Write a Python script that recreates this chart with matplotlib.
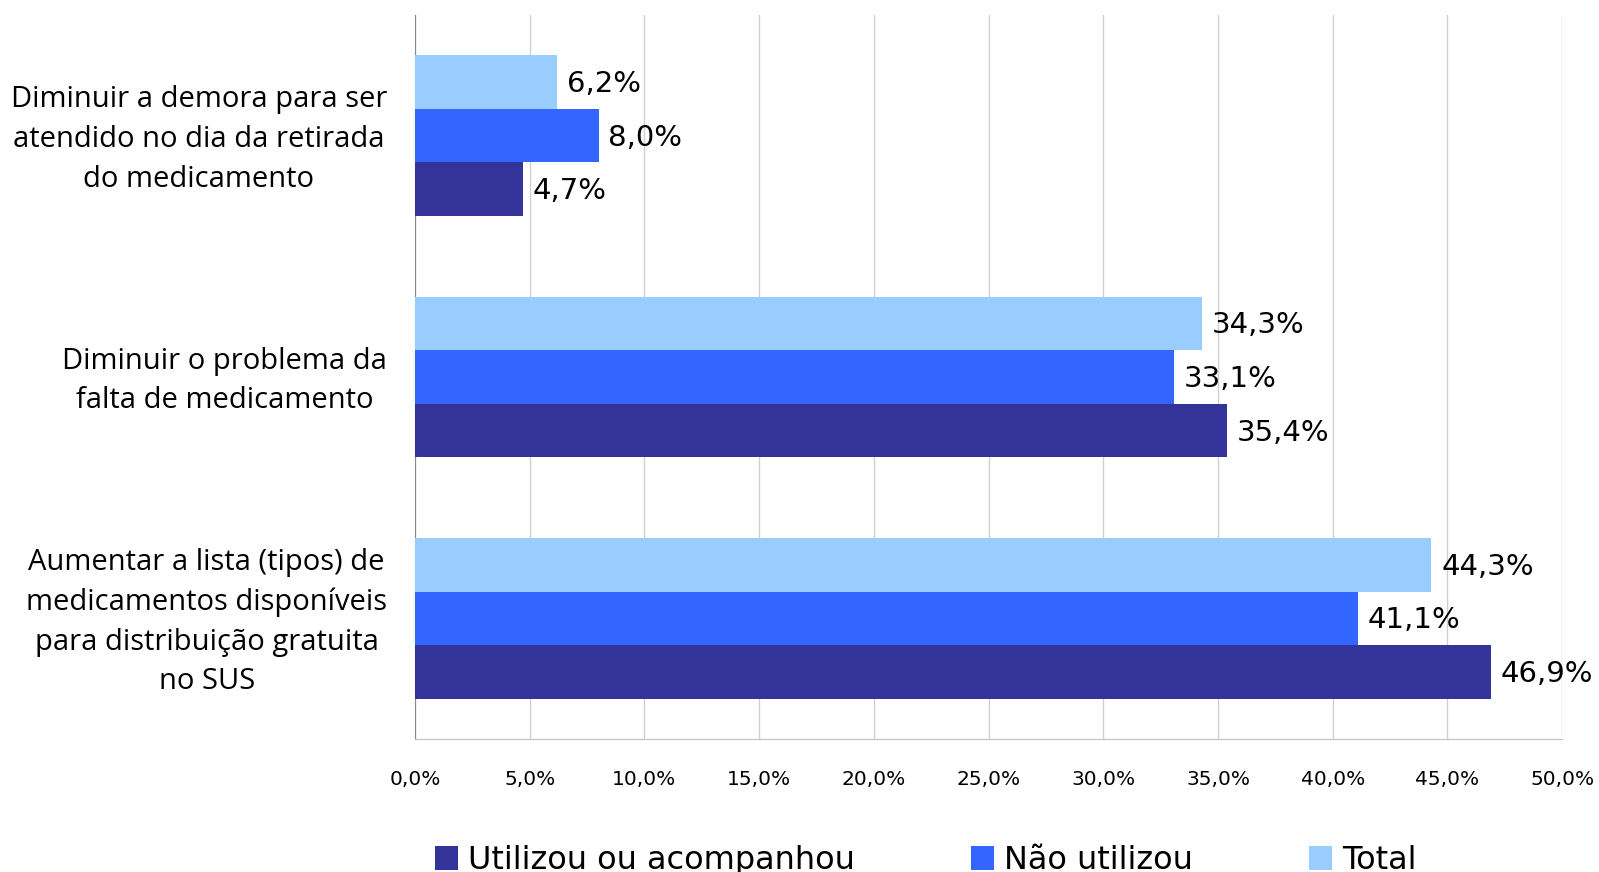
import matplotlib.pyplot as plt
import matplotlib.transforms as mtransforms
import numpy as np
from matplotlib.patches import Patch
from matplotlib.ticker import FuncFormatter, MultipleLocator

plt.rcParams["font.family"] = ["Open Sans", "DejaVu Sans"]

# categories listed top to bottom
categories = [
    "Diminuir a demora para ser\natendido no dia da retirada\ndo medicamento",
    "Diminuir o problema da\nfalta de medicamento",
    "Aumentar a lista (tipos) de\nmedicamentos disponíveis\npara distribuição gratuita\nno SUS",
]
series_names = ["Utilizou ou acompanhou", "Não utilizou", "Total"]
utilizou = [4.7, 35.4, 46.9]
nao_utilizou = [8.0, 33.1, 41.1]
total = [6.2, 34.3, 44.3]
colors = ["#333399", "#3366FF", "#99CCFF"]


def pct(v):
    return f"{v:.1f}%".replace(".", ",")


fig = plt.figure(figsize=(15.99, 8.72), dpi=100)
ax = fig.add_axes([0.2595, 0.1525, 0.7175, 0.8305])

y = np.arange(len(categories))
h = 0.222
# Total on top, then Não utilizou, then Utilizou (y axis is inverted)
offsets = [h, 0.0, -h]
for vals, off, col in zip([utilizou, nao_utilizou, total], offsets, colors):
    bars = ax.barh(y + off, vals, height=h, color=col, zorder=3)
    for b, v in zip(bars, vals):
        ax.annotate(pct(v), (b.get_width(), b.get_y() + b.get_height() / 2),
                    xytext=(7, -1.5), textcoords="offset points",
                    ha="left", va="center", fontsize=21, color="black",
                    family="DejaVu Sans", zorder=4, annotation_clip=False)

ax.set_xlim(0, 50)
ax.set_ylim(-0.5, 2.5)
ax.invert_yaxis()
ax.set_yticks(y)
ax.set_yticklabels(categories, fontsize=21, multialignment="center",
                   linespacing=1.48)
ax.xaxis.set_major_locator(MultipleLocator(5))
ax.xaxis.set_major_formatter(FuncFormatter(lambda v, _: pct(v)))
ax.tick_params(axis="x", length=0, pad=22, labelsize=14.5)
for t in ax.get_xticklabels():
    t.set_family("DejaVu Sans")
ax.tick_params(axis="y", length=0, pad=20)
# nudge the category blocks up a little so they sit on the group centre
nudge = mtransforms.ScaledTranslation(0, 3.5 / 72, fig.dpi_scale_trans)
for t in ax.get_yticklabels():
    t.set_transform(t.get_transform() + nudge)

ax.grid(axis="x", color="#d0d0d0", linewidth=1, zorder=0)
for s in ["top", "right"]:
    ax.spines[s].set_visible(False)
ax.spines["left"].set_color("#888888")
ax.spines["bottom"].set_color("#c0c0c0")

handles = [Patch(facecolor=c, edgecolor="none") for c in colors]
fig.legend(handles, series_names, loc="center", bbox_to_anchor=(0.579, 0.0136),
           ncol=3, frameon=False, handlelength=0.72, handleheight=0.78,
           handletextpad=0.3, columnspacing=3.65, borderpad=0,
           prop={"family": "DejaVu Sans", "size": 23})

fig.savefig("out.png", dpi=100)
